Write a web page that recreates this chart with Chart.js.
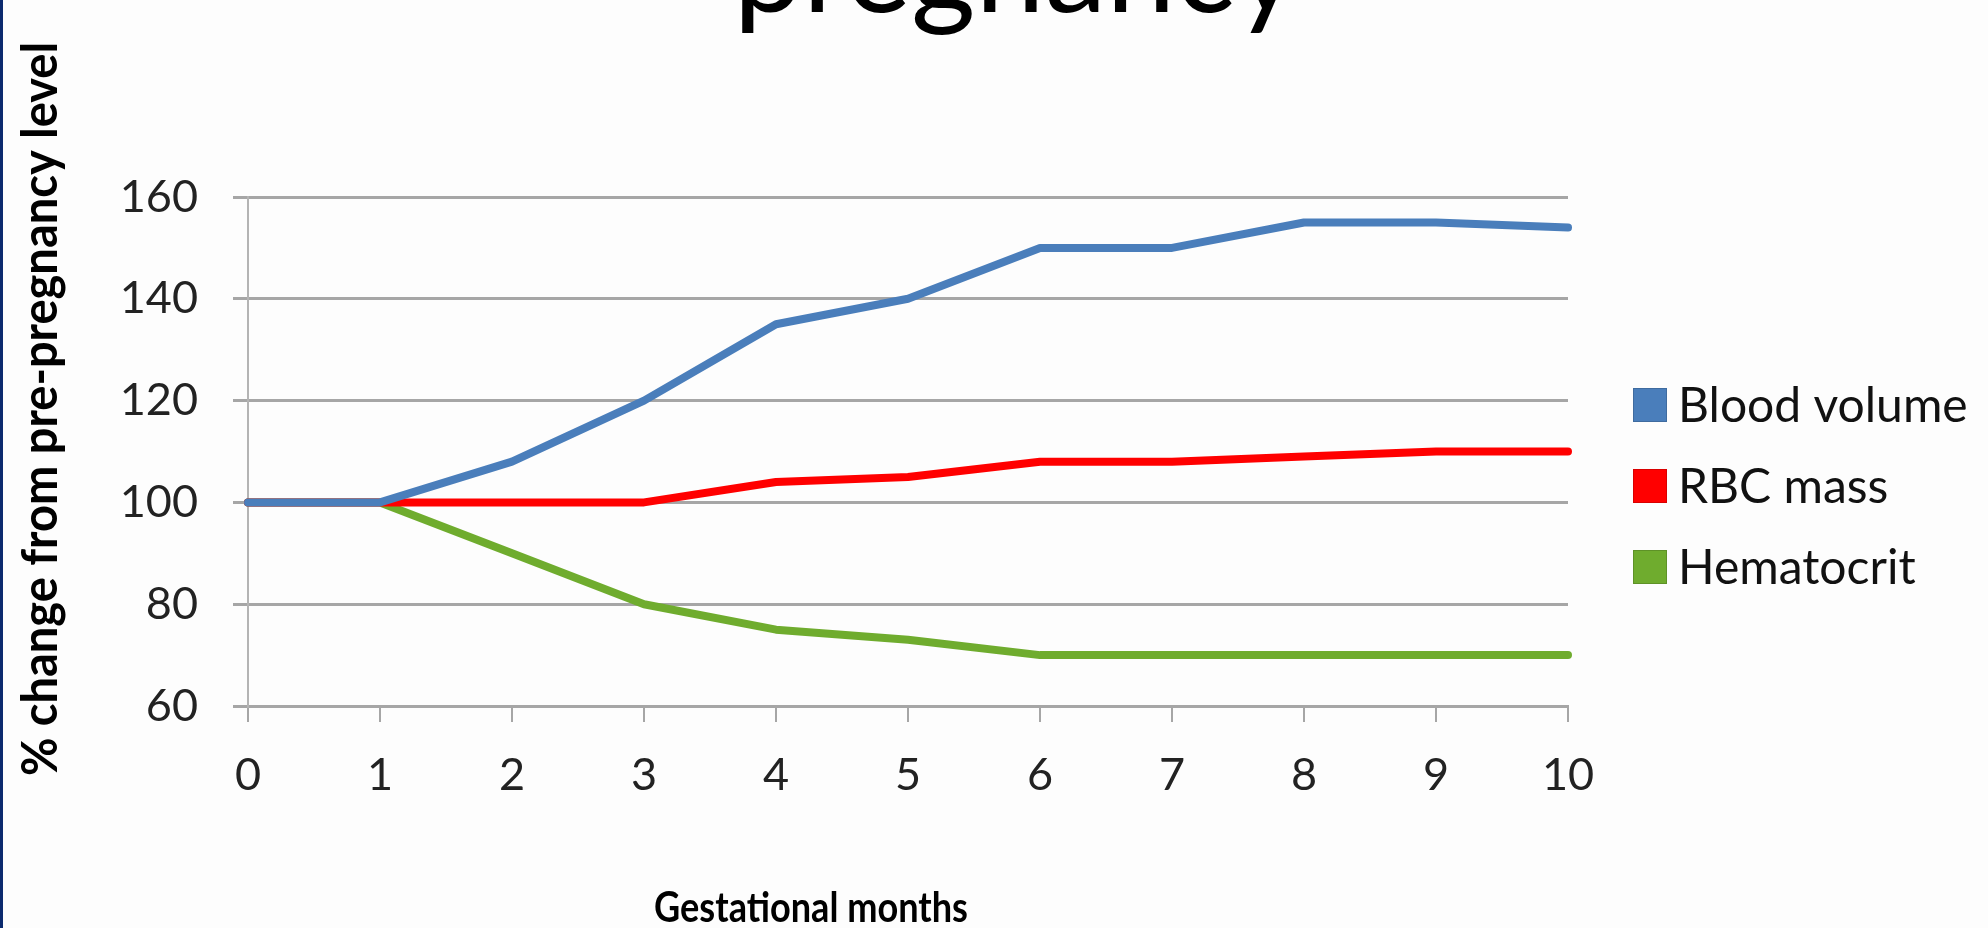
<!DOCTYPE html>
<html>
<head>
<meta charset="utf-8">
<script src="https://cdn.jsdelivr.net/npm/chart.js@4.4.1/dist/chart.umd.min.js"></script>
<style>
html, body { margin: 0; padding: 0; background: #fdfdfd; }
#wrap { position: relative; width: 1988px; height: 928px; overflow: hidden; }
#edge { position: absolute; left: 0; top: 0; width: 3px; height: 928px; background: #0b2a6e; }
</style>
</head>
<body>
<div id="wrap">
  <canvas id="myChart" width="1988" height="928"></canvas>
  <div id="edge"></div>
</div>
<script>
// data
const months = ['0', '1', '2', '3', '4', '5', '6', '7', '8', '9', '10'];
const bloodVolume = [100, 100, 108, 120, 135, 140, 150, 150, 155, 155, 154];
const rbcMass = [100, 100, 100, 100, 104, 105, 108, 108, 109, 110, 110];
const hematocrit = [100, 100, 90, 80, 75, 73, 70, 70, 70, 70, 70];
const seriesNames = ['Blood volume', 'RBC mass', 'Hematocrit'];
const yTicks = [60, 80, 100, 120, 140, 160];

const chartTitle = 'pregnancy';
const yTitle = '% change from pre-pregnancy level';
const xTitle = 'Gestational months';

// title, axis titles and legend drawn straight onto the canvas
const textBits = {
    id: 'textBits',
    afterDraw(chart) {
        const ctx = chart.ctx;
        ctx.save();
        ctx.fillStyle = '#000';
        ctx.textAlign = 'center';
        ctx.textBaseline = 'alphabetic';
        ctx.font = '124px Lato';
        ctx.fillText(chartTitle, 1016, 12);

        // squeeze a bit, the original font is narrower
        ctx.save();
        ctx.translate(811, 922);
        ctx.scale(0.86, 1);
        ctx.font = 'bold 42px Lato';
        ctx.fillText(xTitle, 0, 0);
        ctx.restore();

        ctx.save();
        ctx.translate(57, 409);
        ctx.rotate(-Math.PI / 2);
        ctx.scale(0.94, 1);
        ctx.font = 'bold 50px Lato';
        ctx.fillText(yTitle, 0, 0);
        ctx.restore();

        // legend
        ctx.textAlign = 'left';
        ctx.textBaseline = 'middle';
        ctx.font = '48px Lato';
        chart.data.datasets.forEach((ds, i) => {
            const cy = 405 + i * 81;
            ctx.fillStyle = ds.borderColor;
            ctx.fillRect(1633, cy - 17, 34, 34);
            ctx.strokeStyle = 'rgba(0,0,0,0.15)';
            ctx.lineWidth = 1;
            ctx.strokeRect(1633.5, cy - 16.5, 33, 33);
            ctx.fillStyle = '#111';
            ctx.fillText(ds.label, 1678, cy + 2);
        });
        ctx.restore();
    }
};

const ctx = document.getElementById('myChart').getContext('2d');
const myChart = new Chart(ctx, {
    type: 'line',
    data: {
        labels: months,
        datasets: [
            { label: seriesNames[0], data: bloodVolume, borderColor: '#4a7ebb' },
            { label: seriesNames[1], data: rbcMass, borderColor: '#ff0000' },
            { label: seriesNames[2], data: hematocrit, borderColor: '#6fac2e' }
        ]
    },
    options: {
        responsive: false,
        animation: false,
        devicePixelRatio: 1,
        layout: { padding: { top: 197, right: 420, bottom: 0, left: 0 } },
        elements: {
            line: { borderWidth: 8, tension: 0, borderCapStyle: 'round', borderJoinStyle: 'round', fill: false },
            point: { radius: 0, hoverRadius: 0 }
        },
        plugins: {
            legend: { display: false },
            tooltip: { enabled: false },
            title: { display: false }
        },
        scales: {
            x: {
                offset: false,
                grid: { display: true, drawOnChartArea: false, color: '#a6a6a6', lineWidth: 2, tickLength: 16, tickColor: '#a6a6a6' },
                border: { display: true, color: '#a6a6a6', width: 3 },
                ticks: { color: '#222', font: { family: 'Lato', size: 45 }, padding: 26, maxRotation: 0, autoSkip: false },
                afterFit(scale) { scale.height = 222; }
            },
            y: {
                min: 60,
                max: 160,
                afterBuildTicks(scale) { scale.ticks = yTicks.map(v => ({ value: v })); },
                grid: { color: '#a6a6a6', lineWidth: 3, tickLength: 15 },
                border: { display: true, color: '#b4b4b4', width: 2 },
                ticks: { color: '#222', font: { family: 'Lato', size: 45 }, padding: 35 },
                afterFit(scale) { scale.width = 248; }
            }
        }
    },
    plugins: [textBits]
});
</script>
</body>
</html>
